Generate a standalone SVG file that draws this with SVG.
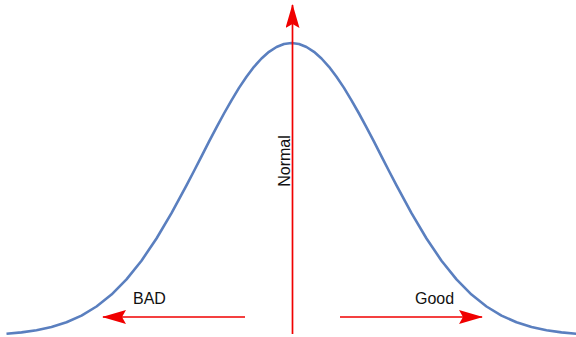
<svg xmlns="http://www.w3.org/2000/svg" width="576" height="337" viewBox="0 0 576 337">
<style>
.curve{fill:none;stroke:#5A7FBF;stroke-width:2.6;stroke-linejoin:round}
.arr{fill:none;stroke:#F00000;stroke-width:1.7}
.lbl{font-family:"Liberation Sans",Arial,sans-serif;font-size:16px;fill:#111}
</style>
<defs>
<marker id="ah" viewBox="0 0 24 14" refX="23" refY="7" markerWidth="24" markerHeight="14" markerUnits="userSpaceOnUse" orient="auto">
<path d="M0,0 L24,7 L0,14 L4,7 Z" fill="#F00000"/>
</marker>
</defs>
<g id="curve">
<path class="curve" d="M6.5,333.8 L21.5,332.4 L36.5,330.2 L51.5,327 L66.5,322.2 L81.5,315.6 L96.5,306.5 L111.5,294.6 L126.5,279.4 L141.5,260.7 L156.5,238.5 L171.5,213.2 L186.5,185.4 L194,171 L201.5,156.3 L209,141.7 L216.5,127.4 L224,113.5 L231.5,100.3 L239,87.9 L246.5,76.7 L254,66.8 L261.5,58.5 L269,51.8 L276.5,47 L284,44 L291.5,43 L299,44 L306.5,47 L314,51.8 L321.5,58.5 L329,66.8 L336.5,76.7 L344,87.9 L351.5,100.3 L359,113.5 L366.5,127.4 L374,141.7 L381.5,156.3 L389,171 L396.5,185.4 L411.5,213.2 L426.5,238.5 L441.5,260.7 L456.5,279.4 L471.5,294.6 L486.5,306.5 L501.5,315.6 L516.5,322.2 L531.5,327 L546.5,330.2 L561.5,332.4 L576.5,333.8"/>
</g>
<g id="connectors">
<line class="arr" x1="292.5" y1="334" x2="292.5" y2="5" marker-end="url(#ah)"/>
<line class="arr" x1="245" y1="317" x2="103" y2="317" marker-end="url(#ah)"/>
<line class="arr" x1="340" y1="317" x2="482" y2="317" marker-end="url(#ah)"/>
</g>
<g id="normal"><text class="lbl" transform="translate(290,161) rotate(-90)" text-anchor="middle">Normal</text></g>
<g id="bad"><text class="lbl" x="133" y="304">BAD</text></g>
<g id="good"><text class="lbl" x="415" y="304">Good</text></g>
</svg>
